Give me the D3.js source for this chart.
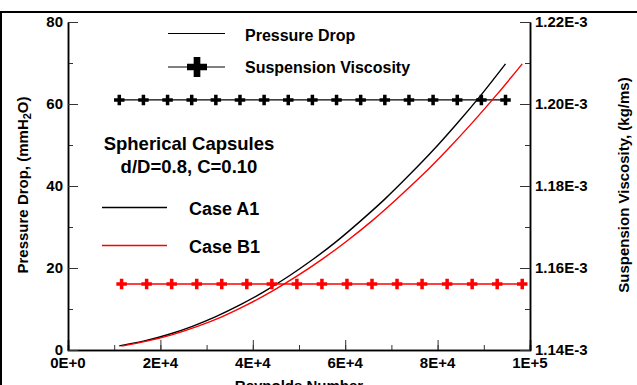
<!DOCTYPE html>
<html>
<head>
<meta charset="utf-8">
<script src="https://cdn.jsdelivr.net/npm/d3@7"></script>
<style>
  body { margin: 0; background: #fff; }
  svg { display: block; font-family: "Liberation Sans", Arial, sans-serif; font-weight: bold; }
</style>
</head>
<body>
<svg id="chart"></svg>
<script>
// Case A1 (black)
const reynoldsA1 = [11100, 16325, 21550, 26775, 32000, 37225, 42450, 47675, 52900,
  58125, 63350, 68575, 73800, 79025, 84250, 89475, 94700];
const pressureA1 = [1.0, 2.15, 3.72, 5.72, 8.14, 10.98, 14.24, 17.92, 22.0,
  26.5, 31.5, 36.8, 42.6, 48.7, 55.3, 62.3, 69.8];
const viscosityA1 = [1.201e-3, 1.201e-3, 1.201e-3, 1.201e-3, 1.201e-3, 1.201e-3, 1.201e-3, 1.201e-3, 1.201e-3,
  1.201e-3, 1.201e-3, 1.201e-3, 1.201e-3, 1.201e-3, 1.201e-3, 1.201e-3, 1.201e-3];

// Case B1 (red)
const reynoldsB1 = [11600, 17020, 22440, 27860, 33280, 38700, 44120, 49540, 54960,
  60380, 65800, 71220, 76640, 82060, 87480, 92900, 98320];
const pressureB1 = [0.95, 2.15, 3.7, 5.7, 8.1, 11.0, 14.3, 18.0, 22.1,
  26.6, 31.5, 36.9, 42.6, 48.8, 55.4, 62.4, 69.8];
const viscosityB1 = [1.1561e-3, 1.1561e-3, 1.1561e-3, 1.1561e-3, 1.1561e-3, 1.1561e-3, 1.1561e-3, 1.1561e-3, 1.1561e-3,
  1.1561e-3, 1.1561e-3, 1.1561e-3, 1.1561e-3, 1.1561e-3, 1.1561e-3, 1.1561e-3, 1.1561e-3];

const xTicks = [0, 20000, 40000, 60000, 80000, 100000];
const xTickLabels = ["0E+0", "2E+4", "4E+4", "6E+4", "8E+4", "1E+5"];
const yLeftTicks = [0, 20, 40, 60, 80];
const yRightTicks = [1.14e-3, 1.16e-3, 1.18e-3, 1.20e-3, 1.22e-3];
const yRightTickLabels = ["1.14E-3", "1.16E-3", "1.18E-3", "1.20E-3", "1.22E-3"];

const svgDimensions = { width: 637, height: 385 };
const plot = { left: 68, right: 530, top: 22, bottom: 350 };
const colors = { a1: "#000000", b1: "#ff0000" };

const svg = d3.select("#chart")
  .attr("width", svgDimensions.width)
  .attr("height", svgDimensions.height);

// outer frame (only top and left edges visible)
svg.append("rect")
  .attr("x", 1).attr("y", 12)
  .attr("width", 700).attr("height", 500)
  .attr("fill", "none").attr("stroke", "#000").attr("stroke-width", 2);

const x = d3.scaleLinear().domain([0, 100000]).range([plot.left, plot.right]);
const yLeft = d3.scaleLinear().domain([0, 80]).range([plot.bottom, plot.top]);
const yRight = d3.scaleLinear().domain([1.14e-3, 1.22e-3]).range([plot.bottom, plot.top]);

// axes: ticks pointing inward
const xAxis = d3.axisTop(x).tickValues(d3.range(0, 100001, 10000)).tickSizeOuter(0)
  .tickSize(5).tickFormat("");
const xAxisMajor = d3.axisTop(x).tickValues(xTicks).tickSizeOuter(0).tickSize(10).tickFormat("");

const gx = svg.append("g").attr("transform", `translate(0,${plot.bottom})`);
gx.call(xAxis);
gx.append("g").call(xAxisMajor);

const gyl = svg.append("g").attr("transform", `translate(${plot.left},0)`);
gyl.call(d3.axisRight(yLeft).tickValues(d3.range(0, 81, 10)).tickSize(5).tickSizeOuter(0).tickFormat(""));
gyl.append("g").call(d3.axisRight(yLeft).tickValues(yLeftTicks).tickSize(10).tickSizeOuter(0).tickFormat(""));

const gyr = svg.append("g").attr("transform", `translate(${plot.right},0)`);
gyr.call(d3.axisLeft(yRight).tickValues(d3.range(0, 9).map(i => 1.14e-3 + i * 0.01e-3)).tickSize(5).tickSizeOuter(0).tickFormat(""));
gyr.append("g").call(d3.axisLeft(yRight).tickValues(yRightTicks).tickSize(10).tickSizeOuter(0).tickFormat(""));

svg.selectAll(".domain").attr("stroke", "#000").attr("stroke-width", 1.5);
svg.selectAll(".tick line").attr("stroke", "#333").attr("stroke-width", 1);

// tick labels
svg.append("g").selectAll("text").data(xTicks).join("text")
  .attr("x", d => x(d)).attr("y", 368)
  .attr("text-anchor", "middle").attr("font-size", 15)
  .text((d, i) => xTickLabels[i]);

svg.append("g").selectAll("text").data(yLeftTicks).join("text")
  .attr("x", 63).attr("y", d => yLeft(d)).attr("dy", "0.36em")
  .attr("text-anchor", "end").attr("font-size", 15)
  .text(d => d);

svg.append("g").selectAll("text").data(yRightTicks).join("text")
  .attr("x", 535).attr("y", d => yRight(d)).attr("dy", "0.36em")
  .attr("text-anchor", "start").attr("font-size", 15)
  .text((d, i) => yRightTickLabels[i]);

// axis titles
svg.append("text")
  .attr("x", 299).attr("y", 391)
  .attr("text-anchor", "middle").attr("font-size", 15)
  .text("Reynolds Number");

const yTitle = svg.append("text")
  .attr("transform", "translate(28,185) rotate(-90)")
  .attr("text-anchor", "middle").attr("font-size", 15);
yTitle.append("tspan").text("Pressure Drop, (mmH");
yTitle.append("tspan").attr("font-size", 11).attr("dy", 3).text("2");
yTitle.append("tspan").attr("dy", -3).text("O)");

svg.append("text")
  .attr("transform", "translate(629,185) rotate(-90)")
  .attr("text-anchor", "middle").attr("font-size", 15)
  .text("Suspension Viscosity, (kg/ms)");

// data series
const seriesA1 = reynoldsA1.map((r, i) => ({ re: r, p: pressureA1[i], mu: viscosityA1[i] }));
const seriesB1 = reynoldsB1.map((r, i) => ({ re: r, p: pressureB1[i], mu: viscosityB1[i] }));

const pressureLine = d3.line().curve(d3.curveMonotoneX)
  .x(d => x(d.re)).y(d => yLeft(d.p));
const viscosityLine = d3.line()
  .x(d => x(d.re)).y(d => yRight(d.mu));
const cross = d3.symbol().type(d3.symbolCross);

[[seriesA1, colors.a1], [seriesB1, colors.b1]].forEach(([data, color]) => {
  svg.append("path").datum(data)
    .attr("d", pressureLine)
    .attr("fill", "none").attr("stroke", color).attr("stroke-width", 1.4);

  svg.append("path").datum(data)
    .attr("d", viscosityLine)
    .attr("fill", "none").attr("stroke", color).attr("stroke-width", 1.4);

  svg.append("g").selectAll("path").data(data).join("path")
    .attr("transform", d => `translate(${x(d.re)},${yRight(d.mu)})`)
    .attr("d", cross.size(5 * Math.pow(10.5 / 3, 2)))
    .attr("fill", color);
});

// legend
const legend = svg.append("g");
legend.append("line").attr("x1", 168).attr("x2", 225).attr("y1", 33.5).attr("y2", 33.5)
  .attr("stroke", "#000").attr("stroke-width", 1);
legend.append("text").attr("x", 245).attr("y", 40.5).attr("font-size", 16).text("Pressure Drop");
legend.append("line").attr("x1", 168).attr("x2", 225).attr("y1", 67).attr("y2", 67)
  .attr("stroke", "#000").attr("stroke-width", 1);
legend.append("path").attr("transform", "translate(197,67)")
  .attr("d", d3.symbol().type(d3.symbolCross).size(5 * Math.pow(20 / 3, 2))())
  .attr("fill", "#000");
legend.append("text").attr("x", 245).attr("y", 72.5).attr("font-size", 16).text("Suspension Viscosity");

svg.append("text").attr("x", 189).attr("y", 150).attr("text-anchor", "middle")
  .attr("font-size", 18.5).text("Spherical Capsules");
svg.append("text").attr("x", 189).attr("y", 172.5).attr("text-anchor", "middle")
  .attr("font-size", 18.5).text("d/D=0.8, C=0.10");

legend.append("line").attr("x1", 102).attr("x2", 167).attr("y1", 207.5).attr("y2", 207.5)
  .attr("stroke", colors.a1).attr("stroke-width", 1.3);
legend.append("text").attr("x", 189).attr("y", 215).attr("font-size", 18).text("Case A1");
legend.append("line").attr("x1", 102).attr("x2", 167).attr("y1", 245.5).attr("y2", 245.5)
  .attr("stroke", colors.b1).attr("stroke-width", 1.5);
legend.append("text").attr("x", 189).attr("y", 253).attr("font-size", 18).text("Case B1");
</script>
</body>
</html>
